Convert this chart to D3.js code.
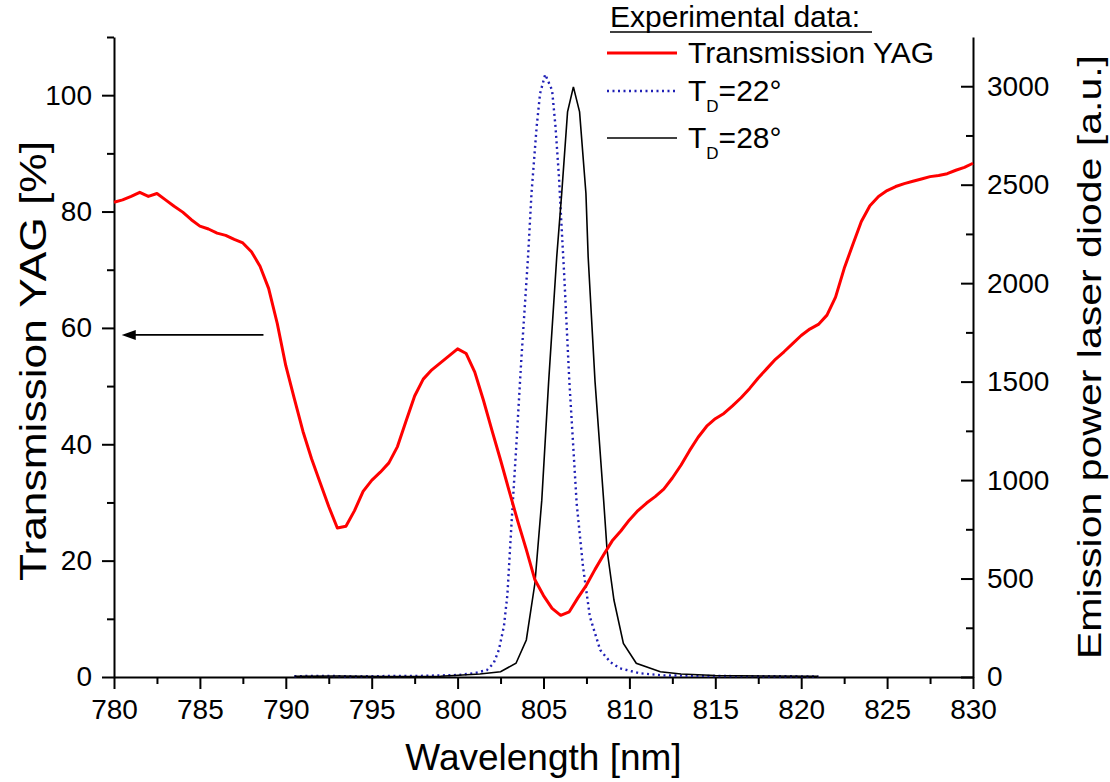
<!DOCTYPE html>
<html>
<head>
<meta charset="utf-8">
<script src="https://cdn.jsdelivr.net/npm/d3@7"></script>
<style>
  body { margin: 0; background: #fff; }
  svg { display: block; font-family: "Liberation Sans", Arial, sans-serif; }
  .axis path, .axis line { stroke: #000; stroke-width: 2; }
  .axis text { font-size: 28px; fill: #000; }
</style>
</head>
<body>
<svg id="chart" width="1110" height="782"></svg>
<script>
// Transmission YAG [%], 0.5 nm steps
var transWl = [780,780.5,781,781.5,782,782.5,783,783.5,784,784.5,785,785.5,786,786.5,787,787.5,788,788.5,789,789.5,
  790,790.5,791,791.5,792,792.5,793,793.5,794,794.5,795,795.5,796,796.5,797,797.5,798,798.5,799,799.5,
  800,800.5,801,801.5,802,802.5,803,803.5,804,804.5,805,805.5,806,806.5,807,807.5,808,808.5,809,809.5,
  810,810.5,811,811.5,812,812.5,813,813.5,814,814.5,815,815.5,816,816.5,817,817.5,818,818.5,819,819.5,
  820,820.5,821,821.5,822,822.5,823,823.5,824,824.5,825,825.5,826,826.5,827,827.5,828,828.5,829,829.5,830];
var transVal = [81.6,82.0,82.6,83.3,82.6,83.1,82.0,80.9,79.9,78.6,77.5,77.0,76.3,75.9,75.2,74.6,73.1,70.6,66.8,60.8,
  53.5,47.8,42.2,37.5,33.4,29.3,25.6,25.9,28.6,31.9,33.8,35.2,36.8,39.6,44.0,48.3,51.2,52.8,54.0,55.2,
  56.4,55.6,52.4,47.6,42.4,37.3,32.0,26.8,21.9,16.7,14.0,11.8,10.6,11.2,13.6,15.8,18.5,21.0,23.4,25.1,
  27.0,28.6,29.9,31.0,32.3,34.2,36.4,38.9,41.2,43.1,44.4,45.3,46.6,48.0,49.6,51.4,53.0,54.6,55.9,57.3,
  58.7,59.8,60.6,62.2,65.3,70.2,74.3,78.3,81.0,82.6,83.6,84.3,84.8,85.2,85.6,86.0,86.2,86.5,87.1,87.6,88.3];

// laser diode emission [a.u.], T_D = 22°
var td22Wl = [790.5,792,794,796,798,800,801,801.7,802.1,802.4,802.7,802.9,803.15,803.4,803.7,804.1,804.3,804.6,804.8,805.1,
  805.5,805.7,805.9,806.0,806.2,806.5,806.93,807.3,807.7,808.3,808.9,809.45,810.6,812,815,818,821];
var td22Val = [4,6,3,5,6,10,20,35,70,137,260,420,797,1150,1600,2133,2455,2793,2963,3060,
  2980,2793,2540,2371,2050,1508,882,560,306,137,75,44,19,8,5,4,3];

// laser diode emission [a.u.], T_D = 28°
var td28Wl = [790.5,793,796,799,801.3,802.5,803.4,804.0,804.5,804.9,805.3,805.77,806.06,806.4,806.74,807.1,807.47,807.6,
  808.0,808.5,808.7,809.1,809.65,810.4,811.8,813,815,818,821];
var td28Val = [3,5,2,4,15,27,70,188,476,898,1500,2133,2455,2870,2997,2870,2455,2133,
  1500,898,645,391,171,70,27,15,8,5,4];

var xTicks = [780,785,790,795,800,805,810,815,820,825,830];
var leftTicks = [0,20,40,60,80,100];
var rightTicks = [0,500,1000,1500,2000,2500,3000];

var svg = d3.select("#chart"),
    margin = {top: 37, right: 137, bottom: 105, left: 114},
    width = +svg.attr("width") - margin.left - margin.right,
    height = +svg.attr("height") - margin.top - margin.bottom,
    g = svg.append("g").attr("transform", "translate(" + margin.left + "," + margin.top + ")");

var x = d3.scaleLinear().domain([780, 830]).range([0, width]),
    yL = d3.scaleLinear().domain([0, 110]).range([height, 0]),
    yR = d3.scaleLinear().domain([0, 3250]).range([height, 0]);

// minor ticks first, then major axes with labels
g.append("g")
    .attr("class", "axis")
    .attr("transform", "translate(0," + height + ")")
    .call(d3.axisBottom(x).tickValues(d3.range(782.5, 830, 5)).tickSize(7).tickFormat(""))
    .call(function(a) { a.select(".domain").remove(); });
g.append("g")
    .attr("class", "axis")
    .call(d3.axisLeft(yL).tickValues([10,30,50,70,90,110]).tickSize(7).tickFormat(""))
    .call(function(a) { a.select(".domain").remove(); });
g.append("g")
    .attr("class", "axis")
    .attr("transform", "translate(" + width + ",0)")
    .call(d3.axisLeft(yR).tickValues(d3.range(250, 3250, 500)).tickSize(7).tickFormat(""))
    .call(function(a) { a.select(".domain").remove(); });

g.append("g")
    .attr("class", "axis")
    .attr("transform", "translate(0," + height + ")")
    .call(d3.axisBottom(x).tickValues(xTicks).tickSize(12).tickSizeOuter(0).tickPadding(10).tickFormat(d3.format("d")));

g.append("g")
    .attr("class", "axis")
    .call(d3.axisLeft(yL).tickValues(leftTicks).tickSize(12).tickSizeOuter(0).tickPadding(10));

var right = g.append("g")
    .attr("class", "axis")
    .attr("transform", "translate(" + width + ",0)")
    .call(d3.axisLeft(yR).tickValues(rightTicks).tickSize(12).tickSizeOuter(0).tickFormat(d3.format("d")));
right.selectAll(".tick text")
    .attr("text-anchor", "start")
    .attr("x", 14);

// curves
var lineL = d3.line()
    .x(function(d) { return x(d[0]); })
    .y(function(d) { return yL(d[1]); });
var lineR = d3.line()
    .x(function(d) { return x(d[0]); })
    .y(function(d) { return yR(d[1]); });

g.append("path")
    .datum(d3.zip(td22Wl, td22Val))
    .attr("fill", "none")
    .attr("stroke", "#1f1fb5")
    .attr("stroke-width", 2.4)
    .attr("stroke-dasharray", "2,3.5")
    .attr("d", lineR);

g.append("path")
    .datum(d3.zip(td28Wl, td28Val))
    .attr("fill", "none")
    .attr("stroke", "#000")
    .attr("stroke-width", 1.6)
    .attr("d", lineR);

g.append("path")
    .datum(d3.zip(transWl, transVal))
    .attr("fill", "none")
    .attr("stroke", "#ff0000")
    .attr("stroke-width", 3)
    .attr("stroke-linejoin", "round")
    .attr("d", lineL);

// arrow pointing at the left axis
var arrowY = yL(58.8);
g.append("line")
    .attr("x1", x(788.7)).attr("x2", x(780.9))
    .attr("y1", arrowY).attr("y2", arrowY)
    .attr("stroke", "#000").attr("stroke-width", 1.6);
g.append("path")
    .attr("d", "M" + x(780.45) + "," + arrowY + "l14,-5l0,10z")
    .attr("fill", "#000");

// axis titles
svg.append("text")
    .attr("x", margin.left + width / 2).attr("y", 770)
    .attr("text-anchor", "middle")
    .style("font-size", "37px")
    .text("Wavelength [nm]");

svg.append("text")
    .attr("transform", "translate(46," + (margin.top + height / 2 + 4) + ") rotate(-90)")
    .attr("text-anchor", "middle")
    .style("font-size", "36px")
    .attr("textLength", 440).attr("lengthAdjust", "spacingAndGlyphs")
    .text("Transmission YAG [%]");

svg.append("text")
    .attr("transform", "translate(1101," + (margin.top + height / 2) + ") rotate(-90)")
    .attr("text-anchor", "middle")
    .style("font-size", "34px")
    .attr("textLength", 604).attr("lengthAdjust", "spacingAndGlyphs")
    .text("Emission power laser diode [a.u.]");

// legend
var leg = svg.append("g").style("font-size", "30px");
leg.append("text").attr("x", 610).attr("y", 27).text("Experimental data:");
leg.append("line").attr("x1", 610).attr("x2", 872).attr("y1", 32).attr("y2", 32)
    .attr("stroke", "#000").attr("stroke-width", 1.6);

var legRows = [
  {y: 53, label: "Transmission YAG", sub: null, rest: null, color: "#ff0000", w: 3, dash: null},
  {y: 91, label: "T", sub: "D", rest: "=22°", color: "#1f1fb5", w: 2.4, dash: "2,3.5"},
  {y: 138, label: "T", sub: "D", rest: "=28°", color: "#000", w: 1.6, dash: null}
];
legRows.forEach(function(r) {
  leg.append("line")
      .attr("x1", 607).attr("x2", 677).attr("y1", r.y).attr("y2", r.y)
      .attr("stroke", r.color).attr("stroke-width", r.w)
      .attr("stroke-dasharray", r.dash);
  var t = leg.append("text").attr("x", 688).attr("y", r.y + 10);
  t.append("tspan").text(r.label);
  if (r.sub) {
    t.append("tspan").attr("dy", 11).style("font-size", "17px").text(r.sub);
    t.append("tspan").attr("dy", -11).text(r.rest);
  }
});
</script>
</body>
</html>
